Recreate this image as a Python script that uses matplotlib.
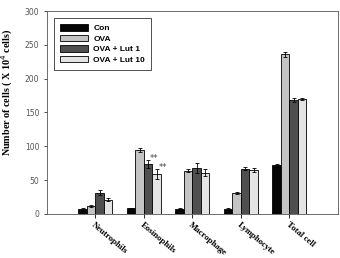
import numpy as np
import matplotlib
matplotlib.use("Agg")
import matplotlib.pyplot as plt

categories = ["Neutrophils", "Eosinophils", "Macrophage", "Lymphocyte", "Total cell"]
groups = ["Con", "OVA", "OVA + Lut 1", "OVA + Lut 10"]
con = [7, 8, 7.5, 7, 72]
ova = [11, 95, 64, 31.5, 236]
lut1 = [31.5, 74, 68, 67, 168]
lut10 = [21, 59, 61, 64.5, 170]
con_err = [1, 1, 1, 1, 2]
ova_err = [1.5, 3, 2, 1.5, 4]
lut1_err = [4, 6, 8, 2, 3]
lut10_err = [2, 7, 5, 3, 2]

colors = ["#050505", "#c4c4c4", "#4f4f4f", "#e4e4e4"]

fig = plt.figure(figsize=(3.4, 2.58), dpi=100)
ax = fig.add_axes([0.138, 0.171, 0.856, 0.786])

x = np.arange(len(categories))
w = 0.175
series = [con, ova, lut1, lut10]
errs = [con_err, ova_err, lut1_err, lut10_err]
for i, (vals, err) in enumerate(zip(series, errs)):
    ax.bar(x + (i - 1.5) * w, vals, w, yerr=err, color=colors[i],
           edgecolor="black", linewidth=0.6, label=groups[i],
           error_kw=dict(elinewidth=0.6, capsize=1.5, capthick=0.6))

# significance marks on eosinophils
for i, vals, err in [(2, lut1, lut1_err), (3, lut10, lut10_err)]:
    ax.text(x[1] + (i - 1.5) * w + 0.12, vals[1] + err[1] - 4, "**",
            fontsize=6, ha="center", va="bottom", color="#444444")

ax.set_xlim(-1, 5)
ax.set_ylim(0, 300)
ax.set_yticks([0, 50, 100, 150, 200, 250, 300])
ax.tick_params(axis="y", labelsize=5.5, length=2, width=0.6, colors="#333333", labelcolor="#555555")
ax.tick_params(axis="x", length=3, width=0.6, pad=2)
ax.set_xticks(x)
ax.set_xticklabels(categories, rotation=-40, ha="left", rotation_mode="anchor",
                   fontsize=6.3, fontweight="bold", family="Liberation Serif")
for s in ax.spines.values():
    s.set_linewidth(0.6)
    s.set_color("#555555")

ax.set_ylabel("Number of cells ( X 10$^4$ cells)", fontsize=7.3, fontweight="bold",
              family="Liberation Serif")
ax.yaxis.set_label_coords(-0.11, 0.6)

leg = ax.legend(loc="upper left", bbox_to_anchor=(0.01, 0.985),
                prop={"weight": "bold", "family": "Liberation Sans", "size": 6},
                fancybox=False, edgecolor="#333333", framealpha=1,
                handlelength=3.4, handleheight=0.8, borderpad=0.7, labelspacing=0.3,
                handletextpad=0.6)
leg.get_frame().set_linewidth(0.6)

fig.savefig("out.png", dpi=100)
